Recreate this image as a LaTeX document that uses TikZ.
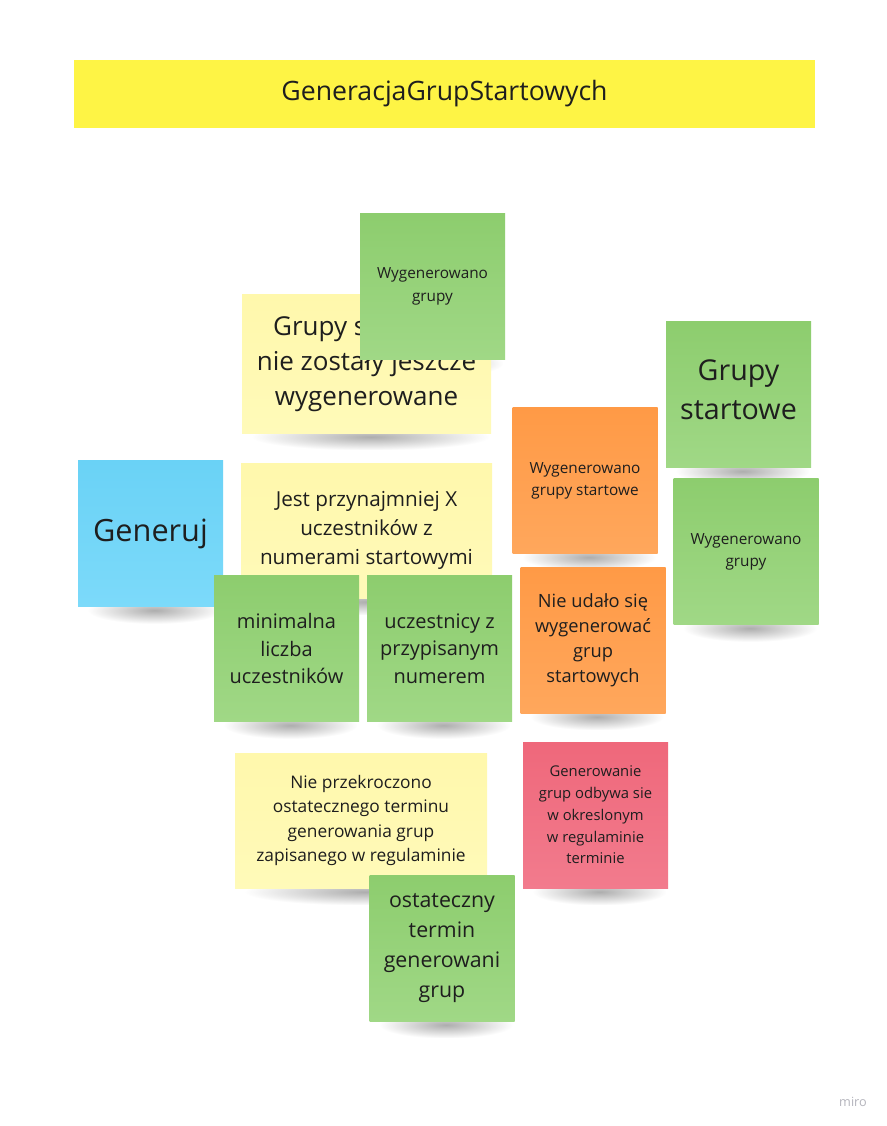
\documentclass[tikz,border=0pt]{standalone}
\usepackage{fontspec}
\setmainfont{Open Sans}
\usetikzlibrary{fadings,backgrounds,calc}
\definecolor{titleyellow}{HTML}{FEF445}
\definecolor{ylwtop}{HTML}{FFF8AC}
\definecolor{ylwbot}{HTML}{FFFAB9}
\definecolor{grntop}{HTML}{8DCD6E}
\definecolor{grnbot}{HTML}{A0D886}
\definecolor{orgtop}{HTML}{FF9A46}
\definecolor{orgbot}{HTML}{FFA75C}
\definecolor{blutop}{HTML}{6AD2F6}
\definecolor{blubot}{HTML}{7CDAFA}
\definecolor{redtop}{HTML}{EF687B}
\definecolor{redbot}{HTML}{F27B8D}
\definecolor{inktext}{HTML}{1E1E1E}
\definecolor{mirogray}{HTML}{B4B4BC}
\newcommand{\notefont}[2]{\fontsize{#1}{#2}\selectfont}
\tikzfading[name=shadowfade, inner color=transparent!0, outer color=transparent!100]
\tikzset{
  sticky/.style={rectangle, inner sep=0pt, align=center, text=inktext},
  square/.style={minimum width=108.75pt, minimum height=109.5pt},
  yellownote/.style={sticky, top color=ylwtop, bottom color=ylwbot},
  greennote/.style={sticky, square, top color=grntop, bottom color=grnbot},
  orangenote/.style={sticky, square, top color=orgtop, bottom color=orgbot},
  bluenote/.style={sticky, square, top color=blutop, bottom color=blubot},
  rednote/.style={sticky, square, top color=redtop, bottom color=redbot},
  shadowblob/.style={fill=black, opacity=0.32, path fading=shadowfade},
}

\begin{document}
\begin{tikzpicture}[x=0.75pt, y=-0.75pt]
      \useasboundingbox (0,0) rectangle (887,1126);
      %title banner
      \node[sticky, fill=titleyellow, minimum width=555.75pt, minimum height=51pt, font=\notefont{20}{24}] (title) at (444.5,94) {GeneracjaGrupStartowych};
      %upper column
      \node[yellownote, minimum width=186.75pt, minimum height=103.5pt, font=\notefont{19.5}{26.25}] (ylwNotYet) at (366.5,364) {Grupy startowe\\nie zostały jeszcze\\wygenerowane};
      \node[greennote, font=\notefont{11.5}{17}] (grnGroupsTop) at (432.5,286.5) {Wygenerowano\\grupy};
      \node[greennote, font=\notefont{21.5}{29}] (grnStartGroups) at (738.5,394.5) {Grupy\\startowe\\[-22pt]};
      \node[orangenote, font=\notefont{11.5}{16.5}] (orgGenerated) at (585,480.5) {Wygenerowano\\grupy startowe};
      \node[greennote, font=\notefont{11.5}{16.5}] (grnGroupsRight) at (746,551.5) {Wygenerowano\\grupy};
      %middle row
      \node[bluenote, font=\notefont{23}{28}] (bluGenerate) at (150.5,533.5) {Generuj};
      \node[yellownote, minimum width=188.25pt, minimum height=101.25pt, font=\notefont{15.5}{21.75}] (ylwMinCount) at (366.5,530.5) {Jest przynajmniej X\\uczestników z\\numerami startowymi};
      \node[greennote, font=\notefont{15}{20.6}] (grnMinNum) at (286.5,648.5) {minimalna\\liczba\\uczestników};
      \node[greennote, font=\notefont{15}{20.6}] (grnAssigned) at (439.5,648.5) {uczestnicy z\\przypisanym\\numerem};
      \node[orangenote, font=\notefont{13.7}{18.75}] (orgFailed) at (593,640) {Nie udało się\\wygenerować\\grup\\startowych};
      %lower row
      \node[yellownote, minimum width=189pt, minimum height=101.25pt, font=\notefont{13}{18.4}] (ylwDeadline) at (361,820.5) {Nie przekroczono\\ostatecznego terminu\\generowania grup\\zapisanego w regulaminie};
      \node[rednote, font=\notefont{11.1}{16.3}] (redInTime) at (595.5,815) {Generowanie\\grup odbywa sie\\w okreslonym\\w regulaminie\\terminie};
      \node[greennote, font=\notefont{16}{22.5}] (grnDeadline) at (442,948) {ostateczny\\termin\\generowani\\grup};
      %watermark
      \node[text=mirogray, font=\notefont{9.5}{11}, inner sep=0pt] (miro) at (853,1102) {miro};
      %shadows and paper
      \begin{scope}[on background layer]
        \fill[white] (0,0) rectangle (887,1126);
        \foreach \n in {ylwNotYet, grnGroupsTop, grnStartGroups, orgGenerated, grnGroupsRight, bluGenerate, ylwMinCount, grnMinNum, grnAssigned, orgFailed, ylwDeadline, redInTime, grnDeadline}
          \fill[shadowblob] ($(\n.south west)+(10,-10)$) rectangle ($(\n.south east)+(-2,17)$);
      \end{scope}
\end{tikzpicture}
\end{document}
